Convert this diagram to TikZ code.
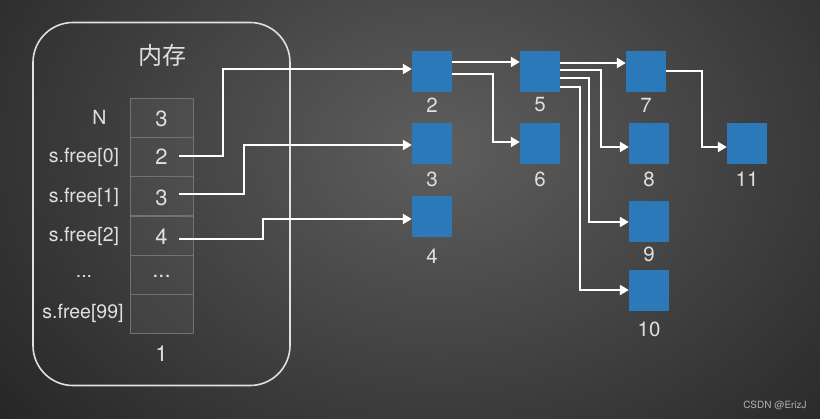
\documentclass[tikz,border=0pt]{standalone}
\usepackage{fontspec}
\setmainfont{TeX Gyre Heros}
\newfontfamily\cjk{Noto Sans CJK SC}
\usetikzlibrary{arrows.meta,calc}
\definecolor{bgin}{HTML}{5E5E5E}
\definecolor{bgout}{HTML}{232323}
\definecolor{blkc}{HTML}{2C79B9}
\definecolor{txtc}{HTML}{E0E0E0}
\definecolor{cellc}{HTML}{727272}
\begin{document}
\begin{tikzpicture}[x=1pt,y=-1pt,
  blk/.style={fill=blkc, minimum width=40pt, minimum height=41pt, inner sep=0pt},
  cell/.style={draw=cellc, line width=0.8pt, fill=white, fill opacity=0.05, text opacity=1, minimum width=63pt, minimum height=39pt, inner sep=0pt},
  val/.style={text=txtc, font=\fontsize{22}{24}\selectfont, inner sep=0pt},
  lab/.style={text=txtc, font=\fontsize{19.5}{22}\selectfont, inner sep=0pt},
  num/.style={text=txtc, font=\fontsize{20.5}{24}\selectfont, inner sep=0pt},
  arr/.style={draw=white, line width=2.6pt, -{Triangle[length=9pt,width=10pt]}},
]
\useasboundingbox (0,0) rectangle (820,419);
\begin{scope}
\clip (0,0) rectangle (820,419);
\shade[inner color=bgin, outer color=bgout] (-160,-300) rectangle (1040,600);
\end{scope}

% memory box
\node[draw=txtc, line width=1.6pt, rounded corners=40pt, minimum width=257pt, minimum height=363pt, inner sep=0pt] (mem) at (161.5,204) {};
\node[text=txtc, font=\cjk\fontsize{24}{26}\selectfont] (title) at (162,55) {内存};

% table
\node[cell] (c0) at (161.5,117.5) {};
\node[cell] (c1) at (161.5,156.5) {};
\node[cell] (c2) at (161.5,196) {};
\node[cell] (c3) at (161.5,235.5) {};
\node[cell] (c4) at (161.5,274.5) {};
\node[cell] (c5) at (161.5,313.5) {};
\node[val] (v0) at (161.5,119) {3};
\node[val] (v1) at (161.5,157) {2};
\node[val] (v2) at (161.5,198) {3};
\node[val] (v3) at (161.5,237) {4};
\node[val] (v4) at (161.5,276) {...};
\node[val] (v6) at (161.5,354) {1};

\node[lab] (n0) at (99.5,117) {N};
\node[lab] (n1) at (84,157) {s.free[0]};
\node[lab] (n2) at (84,197) {s.free[1]};
\node[lab] (n3) at (84,236) {s.free[2]};
\node[lab] (n4) at (84,276) {...};
\node[lab] (n5) at (83,313) {s.free[99]};

% blocks
\node[blk] (b2) at (432,71.5) {};
\node[blk] (b3) at (432,143.5) {};
\node[blk] (b4) at (432,216.5) {};
\node[blk] (b5) at (540,71.5) {};
\node[blk] (b6) at (540,143.5) {};
\node[blk] (b7) at (646,71.5) {};
\node[blk] (b8) at (649,143.5) {};
\node[blk] (b11) at (747,143.5) {};
\node[blk] (b9) at (649,221.5) {};
\node[blk] (b10) at (649,291) {};

\node[num] (t2) at (432,105) {2};
\node[num] (t3) at (432,179) {3};
\node[num] (t4) at (432,256) {4};
\node[num] (t5) at (540,105) {5};
\node[num] (t6) at (540,179) {6};
\node[num] (t7) at (646,105) {7};
\node[num] (t8) at (649,179) {8};
\node[num] (t11) at (747,179) {11};
\node[num] (t9) at (649,254) {9};
\node[num] (t10) at (649,329) {10};

% connectors
\coordinate (s0) at (179,156);
\coordinate (s1) at (179,194);
\coordinate (s2) at (179,239);
\draw[arr] (s0) -- (223,156) |- ($(b2.west)+(0,-2.5)$);
\draw[arr] (s1) -- (244,194) |- ($(b3.west)+(0,1.5)$);
\draw[arr] (s2) -- (263,239) |- ($(b4.west)+(0,2.5)$);

\draw[arr] ($(b2.east)+(0,-9.5)$) -- ($(b5.west)+(0,-9.5)$);
\draw[arr] ($(b2.east)+(0,2.5)$) -- (493,74) |- ($(b6.west)+(0,-1.5)$);
\draw[arr] ($(b5.east)+(0,-8.5)$) -- ($(b7.west)+(0,-8.5)$);
\draw[arr] ($(b5.east)+(0,-1.5)$) -- (601,70) |- ($(b8.west)+(0,3.5)$);
\draw[arr] ($(b5.east)+(0,6.5)$) -- (589,78) |- ($(b9.west)+(0,0.5)$);
\draw[arr] ($(b5.east)+(0,15.5)$) -- (580,87) |- ($(b10.west)+(0,-1)$);
\draw[arr] ($(b7.east)+(0,-0.5)$) -- (702,71) |- ($(b11.west)+(0,3.5)$);

\node[text=gray!60!white, font=\fontsize{10}{12}\selectfont, inner sep=0pt] (wm) at (775,405) {CSDN @ErizJ};
\end{tikzpicture}
\end{document}
